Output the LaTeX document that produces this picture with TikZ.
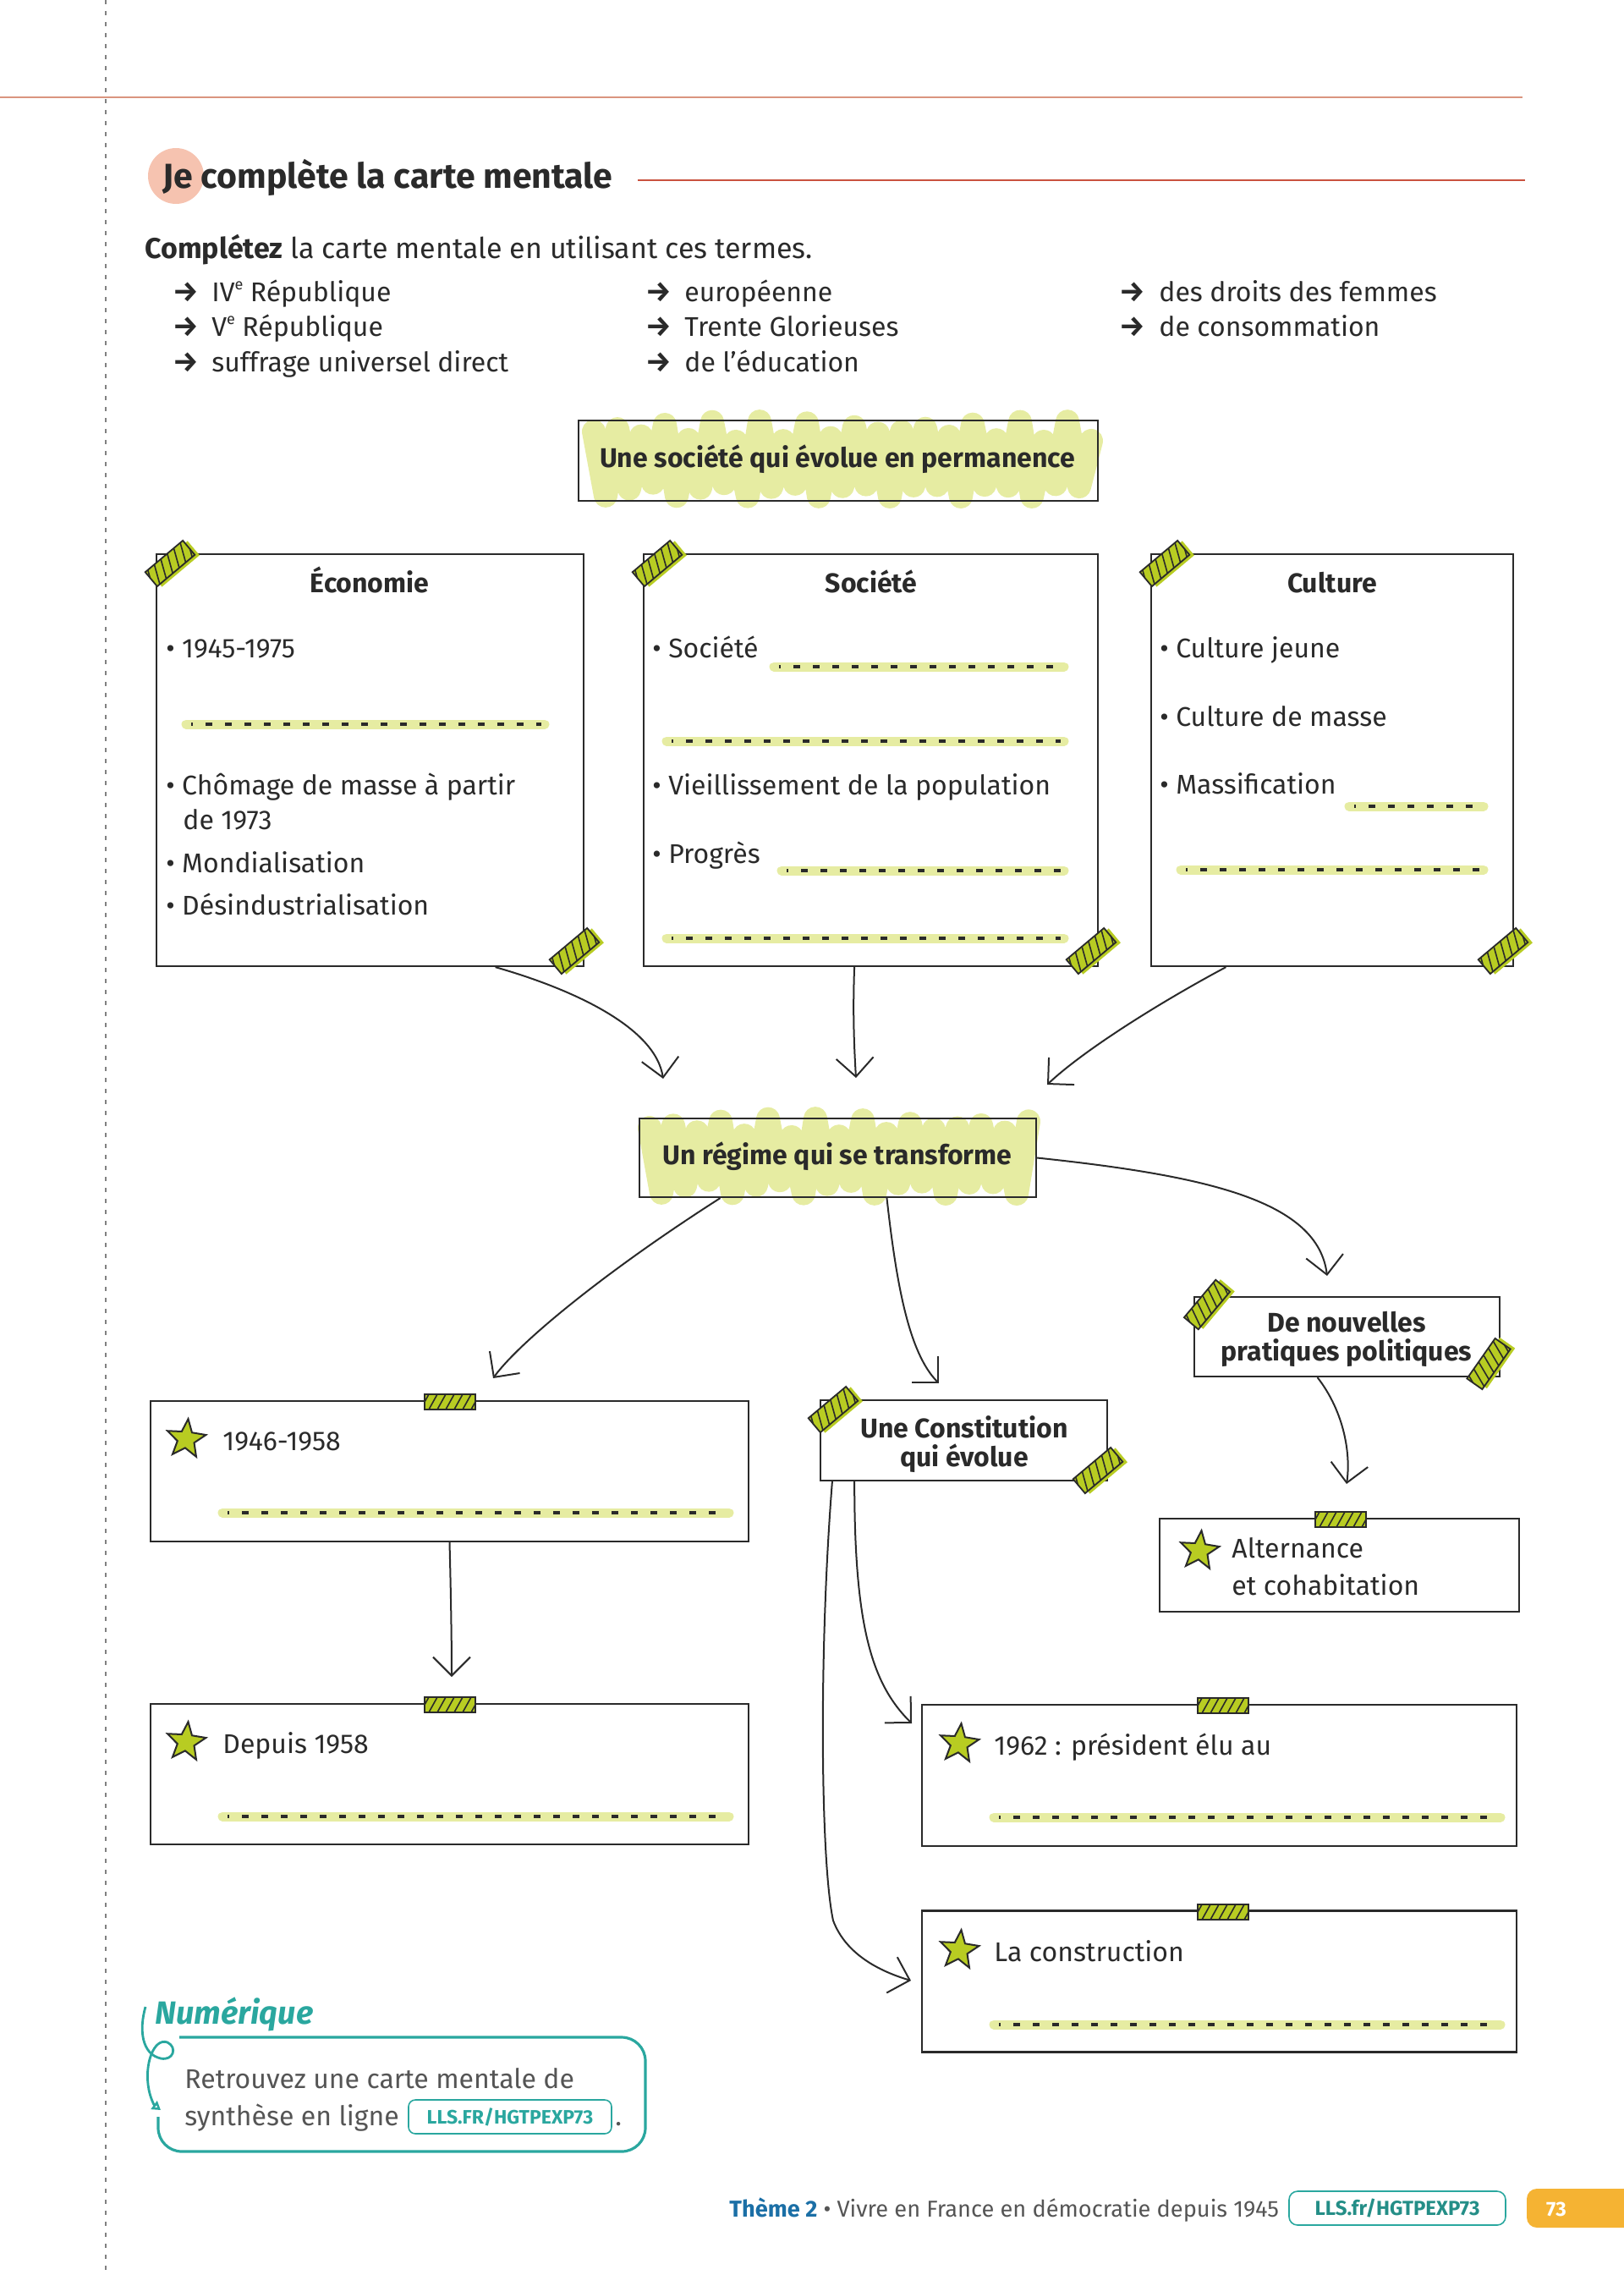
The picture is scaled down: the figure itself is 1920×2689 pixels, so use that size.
\documentclass[tikz,border=0pt]{standalone}
\usepackage{fontspec}
\setmainfont{Fira Sans}
\usetikzlibrary{arrows.meta,shapes.geometric,calc}
\definecolor{ink}{HTML}{2A2A2A}
\definecolor{hl}{HTML}{E6ECA2}
\definecolor{tapeg}{HTML}{B8CC22}
\definecolor{salmon}{HTML}{F6C3B0}
\definecolor{topline}{HTML}{DA957F}
\definecolor{redline}{HTML}{C9523F}
\definecolor{tealc}{HTML}{2AA79F}
\definecolor{blueth}{HTML}{1B6FA6}
\definecolor{orangeb}{HTML}{F5B333}
\definecolor{grayt}{HTML}{555555}
\newcommand\supe{\raisebox{0.8ex}{\fontsize{9}{9}\selectfont e}}
\tikzset{
  box/.style={draw=ink, line width=1.1pt, inner sep=0pt, rectangle},
  txt/.style={font=\fontsize{16}{21}\selectfont, text=ink, inner sep=0pt, anchor=base west},
  arw/.style={font=\bfseries\fontsize{17}{21}\selectfont, text=ink, inner sep=0pt, anchor=base west},
  ttl/.style={font=\bfseries\fontsize{16}{20}\selectfont, text=ink, inner sep=0pt, anchor=base},
  arr/.style={draw=ink, line width=1pt, -{Straight Barb[length=11pt,width=22pt,line width=1pt]}},
  hlline/.style={line width=5.5pt, line cap=round, draw=hl},
  dotline/.style={line width=1.8pt, draw=ink, dash pattern=on 4pt off 7.5pt, dash phase=3pt},
  starn/.style={star, star points=5, star point ratio=2.3, draw=ink, line width=1pt, fill=tapeg, minimum size=24pt, inner sep=0pt, rotate=-6},
  scrib/.style={draw=hl, line width=14pt, line cap=round, line join=round},
  dtape/.pic={
    \fill[tapeg] (-25,-7) rectangle (33,15);
    \fill[tapeg] (-29,-11) rectangle (29,11);
    \begin{scope}
      \clip (-29,-11) rectangle (29,11);
      \foreach \i in {-40,-30,...,40} \draw[ink, line width=0.8pt] (\i+5,-11) -- (\i-5,11);
    \end{scope}
    \draw[ink, line width=0.9pt] (-29,-11) rectangle (29,11);
  },
  htape/.pic={
    \fill[tapeg] (-30,-9) rectangle (30,9);
    \begin{scope}
      \clip (-30,-9) rectangle (30,9);
      \foreach \i in {-40,-30,...,40} \draw[ink, line width=0.8pt] (\i+5,-9) -- (\i-5,9);
    \end{scope}
    \draw[ink, line width=0.9pt] (-30,-9) rectangle (30,9);
  }
}
\newcommand\blankline[3]{\draw[hlline] (#1,#3) -- (#2,#3); \draw[dotline] (#1+6,#3) -- (#2-4,#3);}
\begin{document}
\begin{tikzpicture}[x=0.5pt,y=-0.5pt]
\useasboundingbox (0,0) rectangle (1920,2689);
% page furniture
\draw[gray, line width=0.8pt, dash pattern=on 2.5pt off 4pt] (125,0) -- (125,2689);
\draw[topline, line width=1.3pt] (0,115) -- (1800,115);
\fill[salmon] (208,208) circle[radius=16.5pt];
\node[anchor=base west, font=\bfseries\fontsize{20.5}{24}\selectfont, text=ink, inner sep=0pt] (head) at (192,222) {Je complète la carte mentale};
\draw[redline, line width=1.3pt] (754,213) -- (1803,213);
\node[txt, font=\fontsize{17}{21}\selectfont] (instr) at (171,305) {\textbf{Complétez} la carte mentale en utilisant ces termes.};
% terms
\node[arw] (a1) at (204,356) {→}; \node[txt] (w1) at (250,356) {IV\supe{} République};
\node[arw] (a2) at (204,397) {→}; \node[txt] (w2) at (250,397) {V\supe{} République};
\node[arw] (a3) at (204,439) {→}; \node[txt] (w3) at (250,439) {suffrage universel direct};
\node[arw] (a4) at (763,356) {→}; \node[txt] (w4) at (809,356) {européenne};
\node[arw] (a5) at (763,397) {→}; \node[txt] (w5) at (809,397) {Trente Glorieuses};
\node[arw] (a6) at (763,439) {→}; \node[txt] (w6) at (809,439) {de l’éducation};
\node[arw] (a7) at (1323,356) {→}; \node[txt] (w7) at (1370,356) {des droits des femmes};
\node[arw] (a8) at (1323,397) {→}; \node[txt] (w8) at (1370,397) {de consommation};
% scribbles
\draw[scrib] plot[domain=0:42, samples=43, variable=\t] ({702+14*\t}, {ifthenelse(mod(round(\t),2)<0.5, 510+12*sin(\t*97), 578+9*sin(\t*61))});
\draw[scrib] plot[domain=0:32, samples=33, variable=\t] ({768+14*\t}, {ifthenelse(mod(round(\t),2)<0.5, 1333+11*sin(\t*97), 1402+9*sin(\t*61))});
% boxes
\node[box, minimum width=307pt, minimum height=47.5pt] (top) at (991,544.5) {};
\node[box, minimum width=252.5pt, minimum height=243.5pt] (eco) at (437.5,898.5) {};
\node[box, minimum width=268.5pt, minimum height=243.5pt] (soc) at (1029.5,898.5) {};
\node[box, minimum width=214pt, minimum height=243.5pt] (cul) at (1575,898.5) {};
\node[box, minimum width=234.5pt, minimum height=46.5pt] (reg) at (990.5,1368.5) {};
\node[box, minimum width=180.5pt, minimum height=47pt] (nouv) at (1592.5,1580) {};
\node[box, minimum width=169.5pt, minimum height=47.5pt] (cons) at (1139.5,1702.5) {};
\node[box, minimum width=212.5pt, minimum height=55pt] (alt) at (1583.5,1850) {};
\node[box, minimum width=353.5pt, minimum height=83pt] (b46) at (531.5,1739) {};
\node[box, minimum width=353.5pt, minimum height=83pt] (b58) at (531.5,2097) {};
\node[box, minimum width=351.5pt, minimum height=83.5pt] (b62) at (1441.5,2098.5) {};
\node[box, minimum width=351.5pt, minimum height=83.5pt] (bcon) at (1441.5,2342) {};
% titles
\node[ttl] (topt) at (990,552) {Une société qui évolue en permanence};
\node[ttl] (regt) at (990,1376) {Un régime qui se transforme};
\node[ttl] (nouv1) at (1592,1574) {De nouvelles};
\node[ttl] (nouv2) at (1592,1608) {pratiques politiques};
\node[ttl] (cons1) at (1140,1699) {Une Constitution};
\node[ttl] (cons2) at (1140,1733) {qui évolue};
% Economie
\node[ttl] (ecot) at (437,700) {Économie};
\node[txt] (e1) at (196,777) {• 1945-1975};
\blankline{220}{644}{856}
\node[txt] (e2) at (196,939) {• Chômage de masse à partir};
\node[txt] (e3) at (216,980) {de 1973};
\node[txt] (e4) at (196,1031) {• Mondialisation};
\node[txt] (e5) at (196,1081) {• Désindustrialisation};
% Societe
\node[ttl] (soct) at (1030,700) {Société};
\node[txt] (s1) at (771,777) {• Société};
\blankline{915}{1258}{788}
\blankline{788}{1258}{876}
\node[txt] (s2) at (771,939) {• Vieillissement de la population};
\node[txt] (s3) at (771,1020) {• Progrès};
\blankline{924}{1258}{1029}
\blankline{788}{1258}{1109}
% Culture
\node[ttl] (cult) at (1575,700) {Culture};
\node[txt] (c1) at (1371,777) {• Culture jeune};
\node[txt] (c2) at (1371,858) {• Culture de masse};
\node[txt] (c3) at (1371,938) {• Massification};
\blankline{1595}{1754}{953}
\blankline{1396}{1754}{1028}
% lower boxes
\node[starn] (st0) at (1418,1833) {};
\node[txt] (al1) at (1456,1841) {Alternance};
\node[txt] (al2) at (1456,1885) {et cohabitation};
\node[starn] (st1) at (220,1701) {};
\node[txt] (t46) at (263,1714) {1946-1958};
\blankline{263}{862}{1788}
\node[starn] (st2) at (220,2059) {};
\node[txt] (t58) at (263,2072) {Depuis 1958};
\blankline{263}{862}{2147}
\node[starn] (st3) at (1134,2061) {};
\node[txt] (t62) at (1175,2074) {1962~: président élu au};
\blankline{1175}{1774}{2148}
\node[starn] (st4) at (1134,2305) {};
\node[txt] (tcon) at (1175,2318) {La construction};
\blankline{1175}{1774}{2393}
% tapes
\pic[rotate=40] at (201,666) {dtape};
\pic[rotate=40] at (679,1124) {dtape};
\pic[rotate=40] at (777,666) {dtape};
\pic[rotate=40] at (1290,1124) {dtape};
\pic[rotate=40] at (1377,666) {dtape};
\pic[rotate=40] at (1777,1124) {dtape};
\pic[rotate=50] at (1427,1542) {dtape};
\pic[rotate=55] at (1760,1612) {dtape};
\pic[rotate=40] at (985,1666) {dtape};
\pic[rotate=40] at (1298,1738) {dtape};
\pic at (532,1657) {htape};
\pic at (532,2015) {htape};
\pic at (1446,2016) {htape};
\pic at (1446,2260) {htape};
\pic at (1585,1796) {htape};
% arrow ends
\coordinate (t1) at (784,1275);
\coordinate (t2) at (1012,1274);
\coordinate (t3) at (1238,1282);
\coordinate (t4) at (583,1629);
\coordinate (t5) at (1110,1635);
\coordinate (t6) at (1569,1508);
\coordinate (t7) at (1592,1754);
\coordinate (t8) at (534,1982);
\coordinate (t9) at (1078,2037);
\coordinate (t10) at (1077,2341);
% arrows
\draw[arr] ($(eco.south west)!0.792!(eco.south east)$) .. controls (680,1170) and (775,1215) .. (t1);
\draw[arr] ($(soc.south west)!0.464!(soc.south east)$) .. controls (1008,1200) and (1010,1240) .. (t2);
\draw[arr] ($(cul.south west)!0.208!(cul.south east)$) .. controls (1380,1180) and (1285,1238) .. (t3);
\draw[arr] ($(reg.south west)!0.205!(reg.south east)$) .. controls (720,1500) and (615,1585) .. (t4);
\draw[arr] ($(reg.south west)!0.623!(reg.south east)$) .. controls (1060,1520) and (1075,1600) .. (t5);
\draw[arr] (reg.east) .. controls (1430,1390) and (1558,1420) .. (t6);
\draw[arr] ($(nouv.south west)!0.404!(nouv.south east)$) .. controls (1590,1670) and (1597,1720) .. (t7);
\draw[arr] (b46.south) .. controls (533,1880) and (534,1940) .. (t8);
\draw[arr] ($(cons.south west)!0.121!(cons.south east)$) .. controls (1010,1920) and (1030,1990) .. (t9);
\draw[arr] ($(cons.south west)!0.044!(cons.south east)$) .. controls (968,1950) and (970,2200) .. (985,2270) .. controls (1000,2310) and (1040,2330) .. (t10);
% Numerique
\node[anchor=base west, font=\bfseries\itshape\fontsize{19}{22}\selectfont, text=tealc, inner sep=0pt] (numt) at (183,2392) {Numérique};
\draw[tealc, line width=1.6pt, rounded corners=14pt] (212,2408) -- (763,2408) -- (763,2543) -- (187,2543) -- (187,2502);
\draw[tealc, line width=1.4pt, -{Triangle[open,length=5pt,width=6pt]}] (172,2372) .. controls (164,2400) and (168,2428) .. (190,2433) .. controls (205,2436) and (210,2420) .. (198,2414) .. controls (182,2408) and (170,2440) .. (176,2470) .. controls (178,2480) and (182,2488) .. (190,2494);
\node[anchor=base west, font=\fontsize{16}{21}\selectfont, text=grayt, inner sep=0pt] (n1) at (218,2468) {Retrouvez une carte mentale de};
\node[anchor=base west, font=\fontsize{16}{21}\selectfont, text=grayt, inner sep=0pt] (n2) at (218,2512) {synthèse en ligne};
\node[draw=tealc, rounded corners=4pt, line width=0.8pt, minimum width=120pt, minimum height=20pt, font=\bfseries\fontsize{11.5}{14}\selectfont, text=tealc, inner sep=0pt] (nlink) at (603,2502) {LLS.FR/HGTPEXP73};
\node[anchor=base west, font=\fontsize{16}{21}\selectfont, text=grayt, inner sep=0pt] (ndot) at (727,2512) {.};
% footer
\node[anchor=base west, font=\fontsize{13.6}{15}\selectfont, text=grayt, inner sep=0pt] (foot) at (862,2620) {\textcolor{blueth}{\bfseries Thème 2} • Vivre en France en démocratie depuis 1945};
\node[draw=tealc, rounded corners=5pt, line width=0.8pt, minimum width=128pt, minimum height=20pt, font=\bfseries\fontsize{12}{14}\selectfont, text=tealc!85!black, inner sep=0pt] (flink) at (1652,2610) {LLS.fr/HGTPEXP73};
\fill[orangeb, rounded corners=6pt] (1805,2587) rectangle (1940,2633);
\node[font=\bfseries\fontsize{12}{14}\selectfont, text=white, inner sep=0pt] (pg) at (1840,2611) {73};
\end{tikzpicture}
\end{document}
